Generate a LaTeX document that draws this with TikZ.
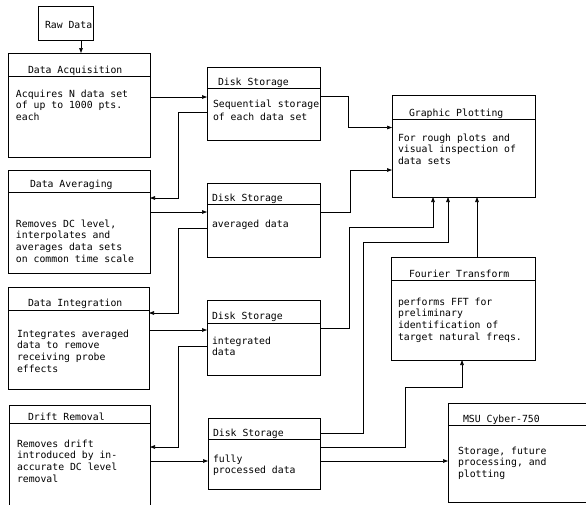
\documentclass[tikz,border=0pt]{standalone}
\usepackage{fontspec}
\setmonofont{DejaVu Sans Mono}
\usetikzlibrary{arrows.meta,fit}

% multi-line text whose reference point is the baseline of its first line
\newcommand{\textlines}[1]{\begin{tabular}[t]{@{}l@{}}#1\end{tabular}}

\begin{document}
\begin{tikzpicture}[x=1pt,y=-1pt,
  every node/.style={inner sep=0pt, outer sep=0pt,
    font=\ttfamily\fontsize{9.8}{11.7}\selectfont},
  block/.style={draw, line width=0.7pt},
  rule/.style={line width=0.7pt},
  title/.style={anchor=base west},
  body/.style={anchor=base west},
  flow/.style={line width=0.7pt, -{Triangle[length=5pt,width=3.6pt]}},
  wire/.style={line width=0.7pt}]

\useasboundingbox (0,0) rectangle (586,504);
\clip (0,0) rectangle (586,504);

% ---------- left column: processing steps ----------
\node[block, fit={(38,6) (93,40)}] (raw) {};
\node[title] (raw-h) at (45,28) {Raw Data};

\node[block, fit={(8,53) (150,157)}] (acq) {};
\draw[rule] (acq.west |- 0,76) -- (acq.east |- 0,76);
\node[title] (acq-h) at (28,73) {Data Acquisition};
\node[body] (acq-b) at (16,97) {\textlines{Acquires N data set\\of up to 1000 pts.\\each}};

\node[block, fit={(8,170) (150,273)}] (avg) {};
\draw[rule] (avg.west |- 0,192) -- (avg.east |- 0,192);
\node[title] (avg-h) at (30,187) {Data Averaging};
\node[body] (avg-b) at (16,227) {\textlines{Removes DC level,\\interpolates and\\averages data sets\\on common time scale}};

\node[block, fit={(8,287) (149,389)}] (int) {};
\draw[rule] (int.west |- 0,310) -- (int.east |- 0,310);
\node[title] (int-h) at (28,306) {Data Integration};
\node[body] (int-b) at (17,337) {\textlines{Integrates averaged\\data to remove\\receiving probe\\effects}};

\node[block, fit={(9,405) (150,515)}] (drift) {};
\draw[rule] (drift.west |- 0,423) -- (drift.east |- 0,423);
\node[title] (drift-h) at (28,420) {Drift Removal};
\node[body] (drift-b) at (17,447) {\textlines{Removes drift\\introduced by in-\\accurate DC level\\removal}};

% ---------- middle column: disk storage ----------
\node[block, fit={(207,67) (320,140)}] (ds1) {};
\draw[rule] (ds1.west |- 0,88) -- (ds1.east |- 0,88);
\node[title] (ds1-h) at (218,85) {Disk Storage};
\node[body] (ds1-b) at (213,107) {\textlines{Sequential storage\\[1.6pt]of each data set}};

\node[block, fit={(207,183) (320,257)}] (ds2) {};
\draw[rule] (ds2.west |- 0,204) -- (ds2.east |- 0,204);
\node[title] (ds2-h) at (212,201) {Disk Storage};
\node[body] (ds2-b) at (212,227) {averaged data};

\node[block, fit={(207,300) (320,375)}] (ds3) {};
\draw[rule] (ds3.west |- 0,323) -- (ds3.east |- 0,323);
\node[title] (ds3-h) at (212,319) {Disk Storage};
\node[body] (ds3-b) at (212,344) {\textlines{integrated\\data}};

\node[block, fit={(208,418) (320,489)}] (ds4) {};
\draw[rule] (ds4.west |- 0,439) -- (ds4.east |- 0,439);
\node[title] (ds4-h) at (213,436) {Disk Storage};
\node[body] (ds4-b) at (213,462) {\textlines{fully\\processed data}};

% ---------- right column: output ----------
\node[block, fit={(392,95) (535,197)}] (gp) {};
\draw[rule] (gp.west |- 0,119) -- (gp.east |- 0,119);
\node[title] (gp-h) at (409,116) {Graphic Plotting};
\node[body] (gp-b) at (398,141) {\textlines{For rough plots and\\visual inspection of\\data sets}};

\node[block, fit={(391,257) (535,360)}] (ft) {};
\draw[rule] (ft.west |- 0,280) -- (ft.east |- 0,280);
\node[title] (ft-h) at (409,277) {Fourier Transform};
\node[body] (ft-b) at (398,305) {\textlines{performs FFT for\\preliminary\\identification of\\target natural freqs.}};

\node[block, fit={(448,403) (600,502)}] (msu) {};
\draw[rule] (msu.west |- 0,425) -- (msu.east |- 0,425);
\node[title] (msu-h) at (463,422) {MSU Cyber-750};
\node[body] (msu-b) at (458,454) {\textlines{Storage, future\\processing, and\\plotting}};

% ---------- connectors ----------
\draw[flow] (raw.south -| 81,0) -- (acq.north -| 81,0);

\draw[flow] (acq.east |- 0,97) -- (ds1.west |- 0,97);
\draw[flow] (ds1.west |- 0,112) -| (178,198) -- (avg.east |- 0,198);

\draw[flow] (avg.east |- 0,212) -- (ds2.west |- 0,212);
\draw[flow] (ds2.west |- 0,228) -| (178,313) -- (int.east |- 0,313);

\draw[flow] (int.east |- 0,330) -- (ds3.west |- 0,330);
\draw[flow] (ds3.west |- 0,346) -| (178,447) -- (drift.east |- 0,447);

\draw[flow] (drift.east |- 0,461) -- (ds4.west |- 0,461);

\draw[flow] (ds1.east |- 0,96) -| (348,127.5) -- (gp.west |- 0,127.5);
\draw[flow] (ds2.east |- 0,212) -| (350,170) -- (gp.west |- 0,170);
\draw[flow] (ds3.east |- 0,328) -| (349,227) -| (gp.south -| 433,0);
\draw[flow] (ds4.east |- 0,433) -| (363,242) -| (gp.south -| 448,0);
\draw[flow] (ds4.east |- 0,447) -| (405,387) -| (ft.south -| 462,0);
\draw[flow] (ft.north -| 477,0) -- (gp.south -| 477,0);
\draw[flow] (ds4.east |- 0,461) -- (msu.west |- 0,461);

\end{tikzpicture}
\end{document}
